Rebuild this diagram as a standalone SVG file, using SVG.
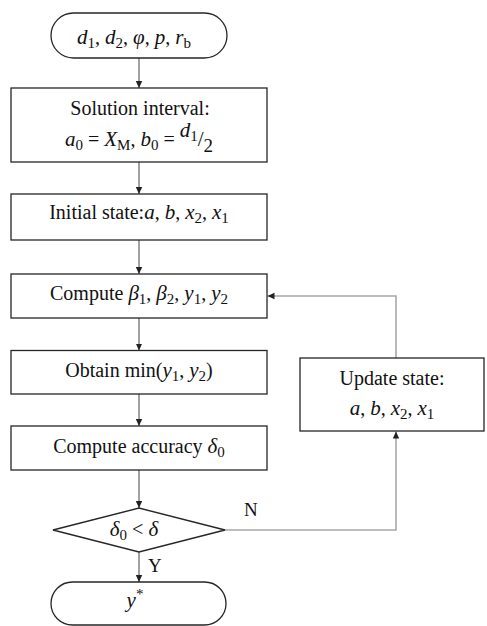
<svg xmlns="http://www.w3.org/2000/svg" width="487" height="626" viewBox="0 0 487 626">
<defs>
<style>
.box{fill:#fff;stroke:#262626;stroke-width:1.3}
.t{font-family:"Liberation Serif","Times New Roman",serif;font-size:20px;fill:#111;text-anchor:middle}
.m{font-style:italic;font-size:21px}
.s{font-size:15px;font-style:normal}
.lbl{font-family:"Liberation Serif","Times New Roman",serif;font-size:19px;fill:#111}
.c{fill:none;stroke:#444;stroke-width:1}
.g{fill:none;stroke:#a8a8a8;stroke-width:1.6}
</style>
<marker id="ah" markerWidth="8" markerHeight="8" refX="7" refY="4" orient="auto" markerUnits="userSpaceOnUse">
<path d="M0,0.8 L7,4 L0,7.2 Z" fill="#222"/>
</marker>
</defs>
<g id="connectors">
<line class="c" x1="139" y1="58" x2="139" y2="88" marker-end="url(#ah)"/>
<line class="c" x1="139" y1="162" x2="139" y2="194" marker-end="url(#ah)"/>
<line class="c" x1="139" y1="240" x2="139" y2="274" marker-end="url(#ah)"/>
<line class="c" x1="139" y1="318" x2="139" y2="350.5" marker-end="url(#ah)"/>
<line class="c" x1="139" y1="394" x2="139" y2="426" marker-end="url(#ah)"/>
<line class="c" x1="139" y1="470" x2="139" y2="508" marker-end="url(#ah)"/>
<line class="c" x1="139" y1="552" x2="139" y2="582" marker-end="url(#ah)"/>
<polyline class="g" points="225,530 396,530 396,431.5" marker-end="url(#ah)"/>
<polyline class="g" points="396,358 396,296 267.5,296" marker-end="url(#ah)"/>
<text class="lbl" x="244" y="516">N</text>
<text class="lbl" x="148" y="572">Y</text>
</g>
<g id="start">
<rect class="box" x="51" y="13" width="176" height="45" rx="22.5"/>
<text class="t" x="134" y="44"><tspan class="m">d</tspan><tspan class="s" dy="4">1</tspan><tspan dy="-4">, </tspan><tspan class="m">d</tspan><tspan class="s" dy="4">2</tspan><tspan dy="-4">, </tspan><tspan class="m">φ</tspan>, <tspan class="m">p</tspan>, <tspan class="m">r</tspan><tspan class="s" dy="4">b</tspan></text>
</g>
<g id="solution-interval">
<rect class="box" x="11" y="88" width="256" height="74"/>
<text class="t" x="140" y="115">Solution interval:</text>
<text class="t" x="139" y="146"><tspan class="m">a</tspan><tspan class="s" dy="4">0</tspan><tspan dy="-4"> = </tspan><tspan class="m">X</tspan><tspan class="s m" dy="4" font-size="14">M</tspan><tspan dy="-4">, </tspan><tspan class="m">b</tspan><tspan class="s" dy="4">0</tspan><tspan dy="-4"> = </tspan><tspan class="m" dy="-9">d</tspan><tspan class="s" dy="4">1</tspan><tspan dy="5" font-size="21">/</tspan><tspan dy="6" font-size="19">2</tspan></text>
</g>
<g id="initial-state">
<rect class="box" x="11" y="194" width="256" height="46"/>
<text class="t" x="139" y="219">Initial state:<tspan class="m">a</tspan>, <tspan class="m">b</tspan>, <tspan class="m">x</tspan><tspan class="s" dy="4">2</tspan><tspan dy="-4">, </tspan><tspan class="m">x</tspan><tspan class="s" dy="4">1</tspan></text>
</g>
<g id="compute-beta">
<rect class="box" x="11" y="274" width="256" height="44"/>
<text class="t" x="139" y="300">Compute <tspan class="m">β</tspan><tspan class="s" dy="4">1</tspan><tspan dy="-4">, </tspan><tspan class="m">β</tspan><tspan class="s" dy="4">2</tspan><tspan dy="-4">, </tspan><tspan class="m">y</tspan><tspan class="s" dy="4">1</tspan><tspan dy="-4">, </tspan><tspan class="m">y</tspan><tspan class="s" dy="4">2</tspan></text>
</g>
<g id="obtain-min">
<rect class="box" x="11" y="350.5" width="256" height="43.5"/>
<text class="t" x="139" y="377">Obtain min(<tspan class="m">y</tspan><tspan class="s" dy="4">1</tspan><tspan dy="-4">, </tspan><tspan class="m">y</tspan><tspan class="s" dy="4">2</tspan><tspan dy="-4">)</tspan></text>
</g>
<g id="compute-accuracy">
<rect class="box" x="11" y="426" width="256" height="44"/>
<text class="t" x="139" y="453">Compute accuracy <tspan class="m">δ</tspan><tspan class="s" dy="4">0</tspan></text>
</g>
<g id="decision">
<polygon class="box" points="53,530 139,508 225,530 139,552"/>
<text class="t" x="134" y="536"><tspan class="m">δ</tspan><tspan class="s" dy="4">0</tspan><tspan dy="-4">  &lt; </tspan><tspan class="m">δ</tspan></text>
</g>
<g id="update-state">
<rect class="box" x="300" y="358" width="184" height="73"/>
<text class="t" x="392" y="385">Update state:</text>
<text class="t" x="392" y="415"><tspan class="m">a</tspan>, <tspan class="m">b</tspan>, <tspan class="m">x</tspan><tspan class="s" dy="4">2</tspan><tspan dy="-4">, </tspan><tspan class="m">x</tspan><tspan class="s" dy="4">1</tspan></text>
</g>
<g id="end">
<rect class="box" x="51" y="582" width="175" height="43" rx="21.5"/>
<text class="t" x="135" y="607"><tspan class="m">y</tspan><tspan class="s" dy="-8">*</tspan></text>
</g>
</svg>
